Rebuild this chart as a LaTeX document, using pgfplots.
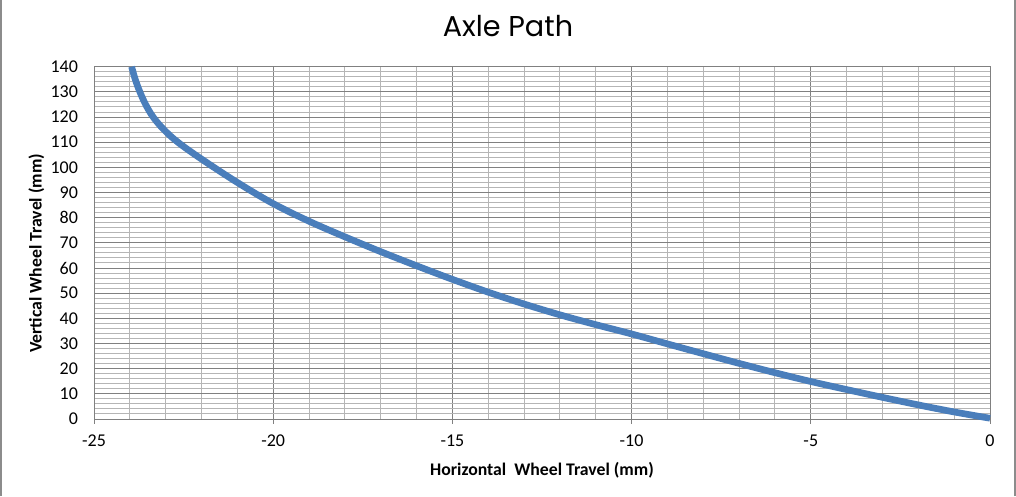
\documentclass[border=0pt]{standalone}
\usepackage{pgfplots}
\pgfplotsset{compat=1.18}
\usepackage{fontspec}
\setmainfont{Carlito}
\newfontfamily\titlefont{Poppins}
\definecolor{majgrid}{HTML}{808080}
\definecolor{mingrid}{HTML}{B5B5B5}
\definecolor{curveblue}{HTML}{4A7EBB}
\definecolor{framegray}{HTML}{8C8C8C}
\begin{document}
\begin{tikzpicture}
\path[use as bounding box] (0,0) rectangle (762pt,372pt);
\draw[framegray, line width=1.5pt] (0.75pt,0) -- (0.75pt,372pt);
\draw[framegray, line width=1.5pt] (760.9pt,0) -- (760.9pt,372pt);
\begin{axis}[
  at={(70.5pt,57.75pt)}, anchor=south west,
  scale only axis, width=672pt, height=264.2pt,
  xmin=-25, xmax=0, ymin=0, ymax=140,
  xtick={-25,-20,-15,-10,-5,0},
  ytick={0,10,20,30,40,50,60,70,80,90,100,110,120,130,140},
  xticklabels={-25,-20,-15,-10,-5,0},
  yticklabels={0,10,20,30,40,50,60,70,80,90,100,110,120,130,140},
  minor x tick num=4, minor y tick num=4,
  grid=both,
  major grid style={majgrid, line width=0.75pt},
  minor grid style={mingrid, line width=0.75pt},
  axis line style={majgrid, line width=0.75pt},
  tick align=outside, major tick length=3.5pt, minor tick length=0pt,
  tick pos=left,
  tick style={majgrid, line width=0.75pt},
  every y tick/.style={draw=none},
  ticklabel style={font=\fontsize{13.5}{15}\selectfont, text=black},
  xticklabel style={yshift=-5pt},
  yticklabel style={xshift=-5pt},
  clip=false,
]
\addplot[curveblue, line width=5pt, smooth, tension=0.55] coordinates {
(-23.95,140) (-23.85,135) (-23.72,130) (-23.56,125) (-23.35,120) (-23.05,115)
(-22.66,110) (-22,103.3) (-21,94.0) (-20,85.6) (-19,78.6) (-18,72.4)
(-17,66.5) (-16,60.9) (-15,55.5) (-14,50.4) (-13,45.7) (-12,41.4)
(-11,37.5) (-10,33.8) (-9,29.85) (-8,25.95) (-7,22.1) (-6,18.4) (-5,14.9)
(-4,11.7) (-3,8.6) (-2,5.6) (-1,2.8) (0,0.3)
};
\end{axis}
\node[anchor=base] at (381pt,344.5pt) {\titlefont\fontsize{21.5}{24}\selectfont Axle Path};
\node[anchor=base, inner sep=0pt] at (406.5pt,15.75pt) {\fontsize{13.3}{15}\selectfont\bfseries Horizontal\ \ Wheel Travel (mm)};
\node[anchor=base, rotate=90, inner sep=0pt] at (31.3pt,182pt) {\fontsize{13.3}{15}\selectfont\bfseries Vertical Wheel Travel (mm)};
\end{tikzpicture}
\end{document}
